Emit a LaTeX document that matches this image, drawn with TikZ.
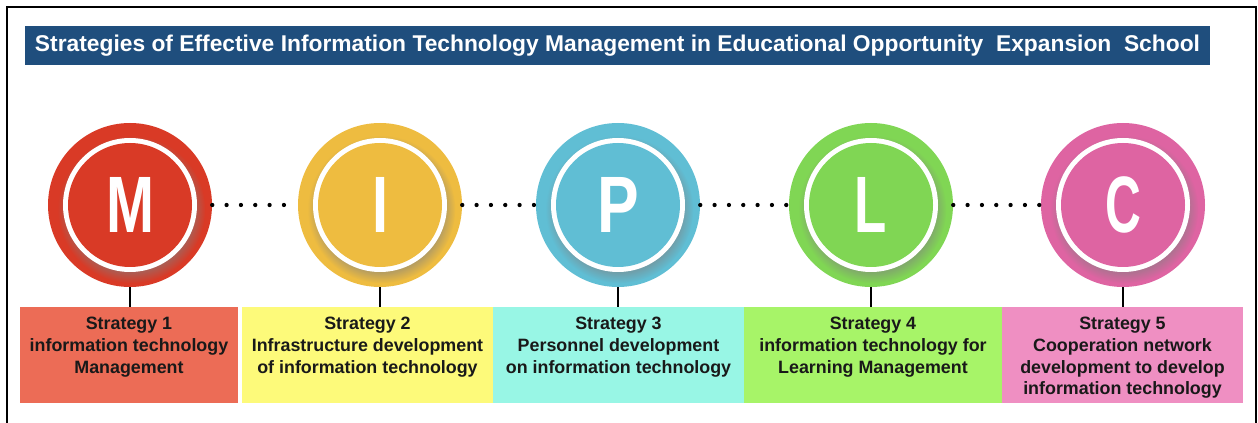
\documentclass[tikz,border=0pt]{standalone}
\usepackage{fontspec}
\setmainfont{Liberation Sans}
\usetikzlibrary{shadows}

\definecolor{titleblue}{RGB}{31,78,125}
\definecolor{mred}{RGB}{217,58,38}
\definecolor{iyellow}{RGB}{238,188,64}
\definecolor{pblue}{RGB}{96,190,212}
\definecolor{lgreen}{RGB}{128,214,84}
\definecolor{cpink}{RGB}{222,100,162}
\definecolor{boxred}{RGB}{236,108,86}
\definecolor{boxyellow}{RGB}{253,250,122}
\definecolor{boxcyan}{RGB}{152,246,229}
\definecolor{boxgreen}{RGB}{167,244,104}
\definecolor{boxpink}{RGB}{239,143,194}

\begin{document}
\begin{tikzpicture}[x=0.75pt, y=-0.75pt,
    disc/.style={circle, minimum size=123pt, inner sep=0pt},
    ring/.style={circle, fill=white, minimum size=100.5pt, inner sep=0pt,
      circular drop shadow={shadow xshift=1pt, shadow yshift=-3pt, opacity=0.5}},
    core/.style={circle, minimum size=93pt, inner sep=0pt, text=white,
      font=\fontsize{60}{60}\selectfont\bfseries},
    dotline/.style={line width=3.2pt, line cap=round, dash pattern=on 0pt off 10.75pt},
    stem/.style={line width=1.5pt},
    stratbox/.style={rectangle, minimum height=72pt, inner sep=0pt},
    strattext/.style={anchor=north, align=center, inner sep=0pt, text=black!90,
      font=\fontsize{13.4}{16.3}\selectfont\bfseries}]
        \useasboundingbox (0,0) rectangle (1258,423);

        % Frame
        \draw[line width=1.2pt] (7,423) -- (7,7) -- (1256,7) -- (1256,423);

        % Title
        \node[fill=titleblue, minimum width=888.75pt, minimum height=29.25pt, inner sep=0pt,
          text=white, font=\fontsize{17.1}{20}\selectfont\bfseries] (title) at (617.5,45.5)
          {Strategies of Effective Information Technology Management in Educational Opportunity~ Expansion~ School};

        % Circles
        \node[disc, fill=mred] (m) at (130,205) {};
        \node[ring] (mring) at (m) {};
        \node[core, fill=mred] (mcore) at (m) {\scalebox{0.72}[1]{M}};

        \node[disc, fill=iyellow] (i) at (380,205) {};
        \node[ring] (iring) at (i) {};
        \node[core, fill=iyellow] (icore) at (i) {\scalebox{0.72}[1]{I}};

        \node[disc, fill=pblue] (p) at (618,205) {};
        \node[ring] (pring) at (p) {};
        \node[core, fill=pblue] (pcore) at (p) {\scalebox{0.78}[1]{P}};

        \node[disc, fill=lgreen] (l) at (871,205) {};
        \node[ring] (lring) at (l) {};
        \node[core, fill=lgreen] (lcore) at (l) {\scalebox{0.66}[1]{L}};

        \node[disc, fill=cpink] (c) at (1123,205) {};
        \node[ring] (cring) at (c) {};
        \node[core, fill=cpink] (ccore) at (c) {\scalebox{0.62}[1]{C}};

        % Dotted links
        \draw[dotline] (m.east) -- (i.west);
        \draw[dotline] (i.east) -- (p.west);
        \draw[dotline] (p.east) -- (l.west);
        \draw[dotline] (l.east) -- (c.west);

        % Strategy boxes
        \node[stratbox, fill=boxred, minimum width=163.5pt] (b1) at (129,355) {};
        \node[stratbox, fill=boxyellow, minimum width=188.25pt] (b2) at (367.5,355) {};
        \node[stratbox, fill=boxcyan, minimum width=188.25pt] (b3) at (618.5,355) {};
        \node[stratbox, fill=boxgreen, minimum width=193.5pt] (b4) at (873,355) {};
        \node[stratbox, fill=boxpink, minimum width=180.75pt] (b5) at (1122.5,355) {};

        \node[strattext] (t1) at (129,317) {Strategy 1\\information technology\\Management};
        \node[strattext] (t2) at (367.5,317) {Strategy 2\\Infrastructure development\\of information technology};
        \node[strattext] (t3) at (618.5,317) {Strategy 3\\Personnel development\\on information technology};
        \node[strattext] (t4) at (873,317) {Strategy 4\\information technology for\\Learning Management};
        \node[strattext] (t5) at (1122.5,317) {Strategy 5\\Cooperation network\\development to develop\\information technology};

        % Stems
        \draw[stem] (m.south) -- (m.south |- b1.north);
        \draw[stem] (i.south) -- (i.south |- b2.north);
        \draw[stem] (p.south) -- (p.south |- b3.north);
        \draw[stem] (l.south) -- (l.south |- b4.north);
        \draw[stem] (c.south) -- (c.south |- b5.north);
    \end{tikzpicture}
\end{document}
